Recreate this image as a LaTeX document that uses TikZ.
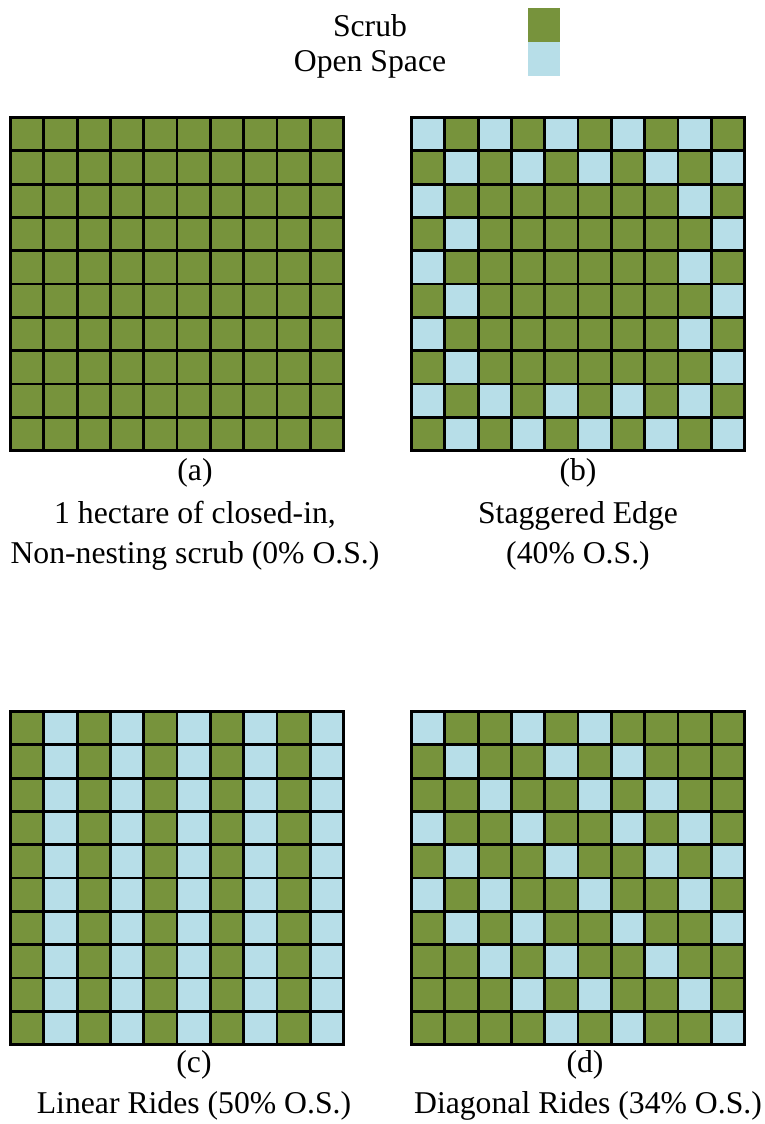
\documentclass[tikz,border=0pt]{standalone}
\usepackage{fontspec}
\setmainfont{Liberation Serif}
\definecolor{scrubgreen}{HTML}{77933C}
\definecolor{openblue}{HTML}{B7DEE8}
\tikzset{
  lbl/.style={anchor=base, inner sep=0pt, font=\fontsize{31.7}{40}\selectfont},
  gridline/.style={line width=2.8pt, black},
}
\newcommand\drawmygrid[3]{%
  \begin{scope}[shift={(#1,#2)}]
    \foreach \rowv [count=\r from 0] in {#3} {
      \foreach \v [count=\c from 0] in \rowv {
        \ifnum\v=1
          \fill[openblue] (\c*33.3,\r*33.3) rectangle ++(33.3,33.3);
        \else
          \fill[scrubgreen] (\c*33.3,\r*33.3) rectangle ++(33.3,33.3);
        \fi
      }
    }
    \foreach \i in {1,...,9} {
      \draw[gridline] (\i*33.3,0) -- (\i*33.3,333);
      \draw[gridline] (0,\i*33.3) -- (333,\i*33.3);
    }
    \draw[gridline, line join=miter] (0,0) rectangle (333,333);
  \end{scope}}
\begin{document}
\begin{tikzpicture}[x=1pt, y=-1pt]
\useasboundingbox (0,0) rectangle (764,1124);

% legend
\node[lbl] (scrubtxt) at (370,37) {Scrub};
\node[lbl] (opentxt) at (370,71) {Open Space};
\fill[scrubgreen] (528,8) rectangle (560,42);
\fill[openblue] (528,42) rectangle (560,76);

% (a)
\drawmygrid{10.5}{117.5}{
{0,0,0,0,0,0,0,0,0,0},{0,0,0,0,0,0,0,0,0,0},{0,0,0,0,0,0,0,0,0,0},{0,0,0,0,0,0,0,0,0,0},{0,0,0,0,0,0,0,0,0,0},
{0,0,0,0,0,0,0,0,0,0},{0,0,0,0,0,0,0,0,0,0},{0,0,0,0,0,0,0,0,0,0},{0,0,0,0,0,0,0,0,0,0},{0,0,0,0,0,0,0,0,0,0}}
% (b)
\drawmygrid{411.5}{117.5}{
{1,0,1,0,1,0,1,0,1,0},
{0,1,0,1,0,1,0,1,0,1},
{1,0,0,0,0,0,0,0,1,0},
{0,1,0,0,0,0,0,0,0,1},
{1,0,0,0,0,0,0,0,1,0},
{0,1,0,0,0,0,0,0,0,1},
{1,0,0,0,0,0,0,0,1,0},
{0,1,0,0,0,0,0,0,0,1},
{1,0,1,0,1,0,1,0,1,0},
{0,1,0,1,0,1,0,1,0,1}}
% (c)
\drawmygrid{10.5}{711.5}{
{0,1,0,1,0,1,0,1,0,1},{0,1,0,1,0,1,0,1,0,1},{0,1,0,1,0,1,0,1,0,1},{0,1,0,1,0,1,0,1,0,1},{0,1,0,1,0,1,0,1,0,1},
{0,1,0,1,0,1,0,1,0,1},{0,1,0,1,0,1,0,1,0,1},{0,1,0,1,0,1,0,1,0,1},{0,1,0,1,0,1,0,1,0,1},{0,1,0,1,0,1,0,1,0,1}}
% (d)
\drawmygrid{411.5}{711.5}{
{1,0,0,1,0,1,0,0,0,0},
{0,1,0,0,1,0,1,0,0,0},
{0,0,1,0,0,1,0,1,0,0},
{1,0,0,1,0,0,1,0,1,0},
{0,1,0,0,1,0,0,1,0,1},
{1,0,1,0,0,1,0,0,1,0},
{0,1,0,1,0,0,1,0,0,1},
{0,0,1,0,1,0,0,1,0,0},
{0,0,0,1,0,1,0,0,1,0},
{0,0,0,0,1,0,1,0,0,1}}

% captions
\node[lbl] (la) at (195,480) {(a)};
\node[lbl] (ca1) at (195,523) {1 hectare of closed-in,};
\node[lbl] (ca2) at (195,563) {Non-nesting scrub (0\% O.S.)};
\node[lbl] (lb) at (578,480) {(b)};
\node[lbl] (cb1) at (578,523) {Staggered Edge};
\node[lbl] (cb2) at (578,563) {(40\% O.S.)};
\node[lbl] (lc) at (194,1072) {(c)};
\node[lbl] (cc) at (194,1113) {Linear Rides (50\% O.S.)};
\node[lbl] (ld) at (585,1072) {(d)};
\node[lbl] (cd) at (588,1113) {Diagonal Rides (34\% O.S.)};
\end{tikzpicture}
\end{document}
